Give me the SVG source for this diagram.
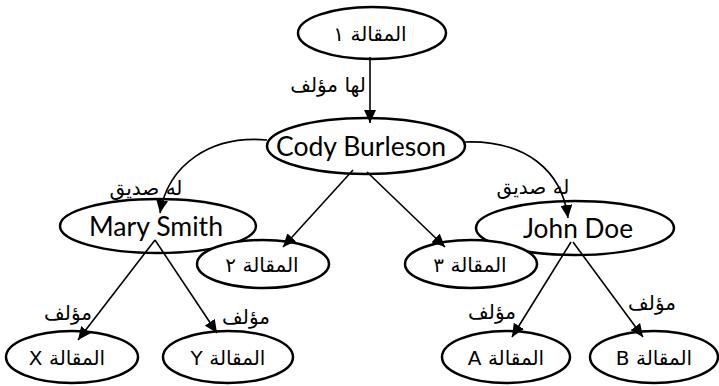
<svg xmlns="http://www.w3.org/2000/svg" width="719" height="386" viewBox="0 0 719 386">
<defs>
<marker id="ah" markerUnits="userSpaceOnUse" markerWidth="14" markerHeight="12" refX="13" refY="6" orient="auto">
<path d="M0,0 L13,6 L0,12 Z" fill="#000"/>
</marker>
<style>
.n ellipse{fill:#fff;stroke:#000;stroke-width:2.5}
.ar{font-family:"DejaVu Sans","Liberation Sans",sans-serif;font-size:20px;fill:#000;text-anchor:middle}
.la{font-family:Lato,"Open Sans",sans-serif;font-size:26px;fill:#000;text-anchor:middle}
.lbl{font-family:"DejaVu Sans","Liberation Sans",sans-serif;font-size:20px;fill:#000;text-anchor:middle}
#edges path,#edges line{fill:none;stroke:#000;stroke-width:1.6;marker-end:url(#ah)}
</style>
</defs>
<rect width="719" height="386" fill="#fff"/>
<g id="n1" class="n"><ellipse cx="372" cy="33" rx="74" ry="26"/><text class="ar" x="370" y="41">المقالة ١</text></g>
<g id="cody" class="n"><ellipse cx="366" cy="146" rx="99" ry="28"/><text class="la" x="361" y="156" textLength="170" lengthAdjust="spacingAndGlyphs">Cody Burleson</text></g>
<g id="mary" class="n"><ellipse cx="158" cy="226" rx="98" ry="27"/><text class="la" x="156" y="236" textLength="134" lengthAdjust="spacingAndGlyphs">Mary Smith</text></g>
<g id="john" class="n"><ellipse cx="575" cy="228" rx="99" ry="27"/><text class="la" x="578" y="238" textLength="110" lengthAdjust="spacingAndGlyphs">John Doe</text></g>
<g id="n2" class="n"><ellipse cx="263" cy="264" rx="66" ry="24"/><text class="ar" x="262" y="272">المقالة ٢</text></g>
<g id="n3" class="n"><ellipse cx="471" cy="264" rx="66" ry="24"/><text class="ar" x="470" y="272">المقالة ٣</text></g>
<g id="nx" class="n"><ellipse cx="72" cy="357" rx="66" ry="26"/><text class="ar" x="67" y="365">X المقالة</text></g>
<g id="ny" class="n"><ellipse cx="228" cy="357" rx="65" ry="26"/><text class="ar" x="228" y="365">Y المقالة</text></g>
<g id="na" class="n"><ellipse cx="506" cy="357" rx="64" ry="26"/><text class="ar" x="506" y="365">A المقالة</text></g>
<g id="nb" class="n"><ellipse cx="654" cy="357" rx="64" ry="26"/><text class="ar" x="654" y="365">B المقالة</text></g>
<g id="edges">
<line x1="370" y1="57" x2="370" y2="123"/>
<path d="M267,140 C210,135 168,165 160,213"/>
<path d="M465,142 C525,140 562,170 568,218"/>
<line x1="353" y1="170" x2="283" y2="247"/>
<line x1="367" y1="172" x2="445" y2="247"/>
<line x1="155" y1="240" x2="78" y2="340"/>
<line x1="155" y1="240" x2="217" y2="333"/>
<line x1="571" y1="242" x2="512" y2="337"/>
<line x1="573" y1="242" x2="643" y2="337"/>
<text class="lbl" x="328" y="92">لها مؤلف</text>
<text class="lbl" x="146" y="195">له صديق</text>
<text class="lbl" x="533" y="194">له صديق</text>
<text class="lbl" x="68" y="320">مؤلف</text>
<text class="lbl" x="246" y="324">مؤلف</text>
<text class="lbl" x="492" y="319">مؤلف</text>
<text class="lbl" x="652" y="310">مؤلف</text>
</g>
</svg>
